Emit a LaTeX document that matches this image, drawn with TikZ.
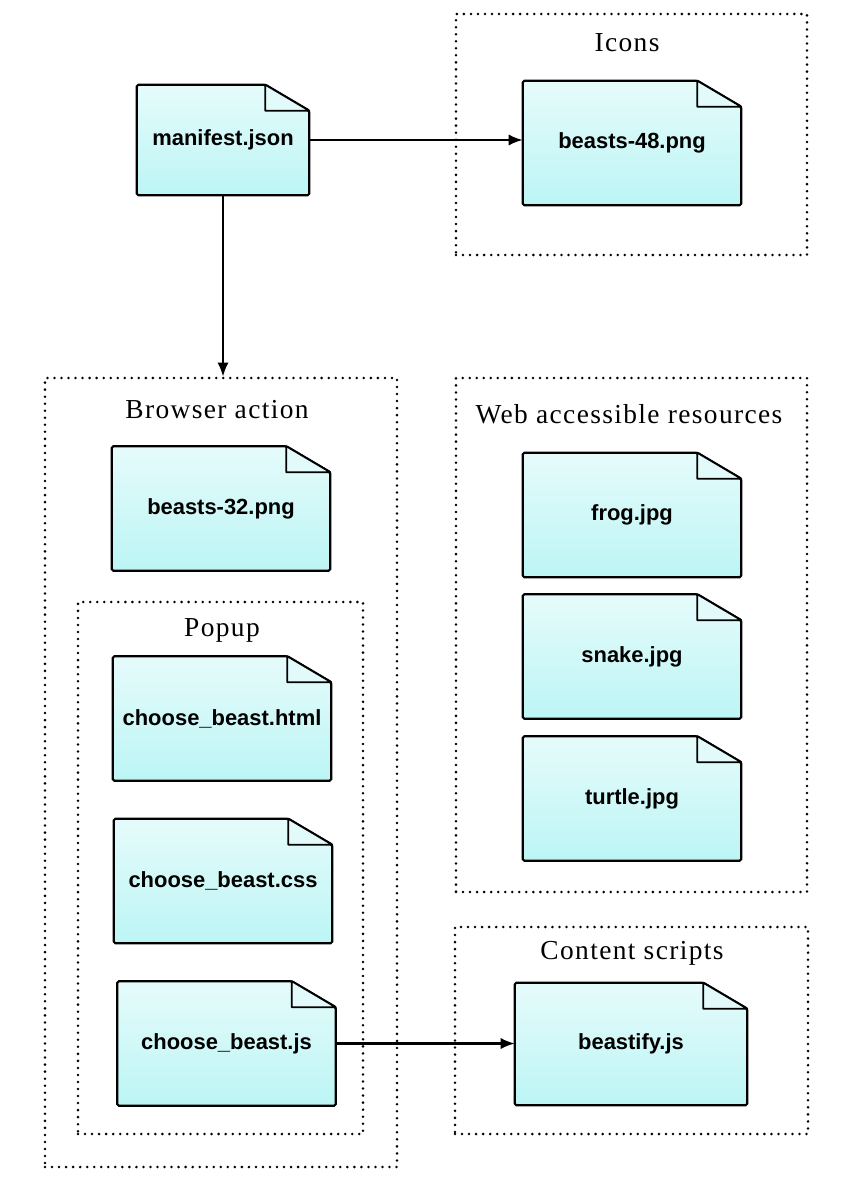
\documentclass[tikz,border=0pt]{standalone}
\usepackage{fontspec}
\setmainfont{Liberation Serif}
\setsansfont{Liberation Sans}
\usetikzlibrary{arrows.meta,positioning}

\definecolor{filetop}{RGB}{230,251,251}
\definecolor{filebottom}{RGB}{188,245,245}
\definecolor{foldfill}{RGB}{226,250,250}

\newcommand{\pxu}{0.025cm}

\tikzset{
  file/.style={inner sep=0pt, minimum width=218*\pxu, minimum height=124*\pxu,
    font=\sffamily\bfseries\fontsize{15.6}{18}\selectfont,
    append after command={\pgfextra{\let\filenode\tikzlastnode
      \shadedraw[top color=filetop, bottom color=filebottom, line width=1.6pt, rounded corners=1.2pt]
        (\filenode.south west) -- (\filenode.north west)
        -- ([xshift=-44*\pxu]\filenode.north east)
        -- ([yshift=-26*\pxu]\filenode.north east)
        -- (\filenode.south east) -- cycle;
      \filldraw[fill=foldfill, line width=1.3pt, line join=round]
        ([xshift=-44*\pxu]\filenode.north east)
        -- ([xshift=-44*\pxu,yshift=-26*\pxu]\filenode.north east)
        -- ([yshift=-26*\pxu]\filenode.north east) -- cycle;}}},
  group/.style={draw, line width=2pt, line cap=round, dash pattern=on 0pt off 5pt, inner sep=0pt},
  grouptitle/.style={font=\fontsize{19.5}{22}\selectfont\addfontfeature{LetterSpace=5}},
  link/.style={-{Latex[length=10pt,width=8pt]}, line width=1.5pt}
}

\begin{document}
\begin{tikzpicture}[x=0.025cm, y=-0.025cm]
\useasboundingbox (0,0) rectangle (860,1200);

% dotted groups
\node[group, minimum width=351*\pxu, minimum height=241*\pxu] (icons) at (631.5,134.5) {};
\node[group, minimum width=352*\pxu, minimum height=789*\pxu] (browser) at (221,772.5) {};
\node[group, minimum width=285*\pxu, minimum height=532*\pxu] (popup) at (220.5,868) {};
\node[group, minimum width=351*\pxu, minimum height=514*\pxu] (web) at (631.5,635) {};
\node[group, minimum width=353*\pxu, minimum height=207*\pxu] (content) at (631.5,1030.5) {};

\node[grouptitle] (iconstitle) at (627,43) {Icons};
\node[grouptitle] (browsertitle) at (217,410) {Browser action};
\node[grouptitle] (popuptitle) at (222,630) {Popup};
\node[grouptitle] (webtitle) at (629,414) {Web accessible resources};
\node[grouptitle] (contenttitle) at (632,953) {Content scripts};

% files
\node[file, minimum width=172*\pxu, minimum height=110*\pxu] (manifest) at (223,140) {manifest.json};
\node[file] (beasts48) at (632,143) {beasts-48.png};
\node[file] (beasts32) at (221,508.5) {beasts-32.png};
\node[file] (popuphtml) at (222,718.5) {choose\_beast.html};
\node[file] (popupcss) at (223,881) {choose\_beast.css};
\node[file] (popupjs) at (226.5,1043.5) {choose\_beast.js};
\foreach \name/\y in {frog/515, snake/656.5, turtle/798.5}
  \node[file] (\name) at (632,\y) {\name.jpg};
\node[file, minimum width=232*\pxu, minimum height=122*\pxu] (beastify) at (631,1044) {beastify.js};

% links
\draw[link] (manifest.east) -- (manifest.east -| beasts48.west);
\draw[link] (manifest.south) -- (manifest.south |- browser.north);
\draw[link] (popupjs.east) -- (popupjs.east -| beastify.west);
\end{tikzpicture}
\end{document}
